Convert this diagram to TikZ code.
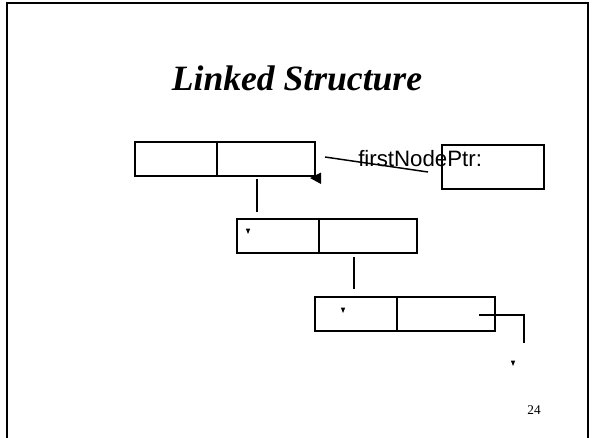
\documentclass[tikz,border=0pt]{standalone}
\usepackage{fontspec}
\setmainfont{Liberation Serif}
\setsansfont{Liberation Sans}
\usetikzlibrary{arrows.meta,positioning}
\tikzset{cell/.style={draw,line width=1.1pt,minimum height=25.5pt,inner sep=0pt,outer sep=0pt},
 link/.style={line width=1.1pt},tip/.style={fill=black}}
\begin{document}
\begin{tikzpicture}[x=0.75pt,y=-0.75pt]
\useasboundingbox (0,0) rectangle (592,437);
\draw[line width=1.5pt] (7,440)--(7,2.5)--(588,2.5)--(588,440);
\node[font=\fontsize{26.7}{30}\selectfont\bfseries\itshape,anchor=base] (title) at (297,90) {Linked Structure};
% list cells
\node[cell,minimum width=61.5pt,anchor=north west] (n1data) at (135,142) {};
\node[cell,minimum width=73.5pt,right=0pt of n1data] (n1next) {};
\node[cell,minimum width=61.5pt,anchor=north west] (n2data) at (237,219) {};
\node[cell,minimum width=73.5pt,right=0pt of n2data] (n2next) {};
\node[cell,minimum width=61.5pt,anchor=north west] (n3data) at (315,297) {};
\node[cell,minimum width=73.5pt,right=0pt of n3data] (n3next) {};
\node[cell,minimum width=76.5pt,minimum height=33pt,anchor=north west] (ptr) at (442,145) {};
\node[font=\sffamily\fontsize{16.7}{18}\selectfont,anchor=base west,inner sep=0pt] (ptrlabel) at (358,166) {firstNodePtr:};
% pointers
\coordinate (ptrend) at (428,172);
\coordinate (ptrstart) at (325,157);
\draw[link] (ptrend)--(ptrstart);
\fill[tip] (310,178)--(321,172.5)--(321,184)--cycle;
\coordinate (a1) at (257,179);
\coordinate (a2) at (257,212);
\draw[link] (a1)--(a2);
\coordinate (b1) at (354,257);
\coordinate (b2) at (354,289);
\draw[link] (b1)--(b2);
\coordinate (c1) at (479,315);
\coordinate (c2) at (524,315);
\coordinate (c3) at (524,343);
\draw[link] (c1)--(c2)--(c3);
\foreach \x/\y in {248/231,343/310,513/363}{
 \fill[tip] (\x-2.2,\y-2.5)--(\x+2.2,\y-2.5)--(\x,\y+3)--cycle;
}
\node[font=\fontsize{10}{12}\selectfont] (page) at (534,410) {24};
\end{tikzpicture}
\end{document}
